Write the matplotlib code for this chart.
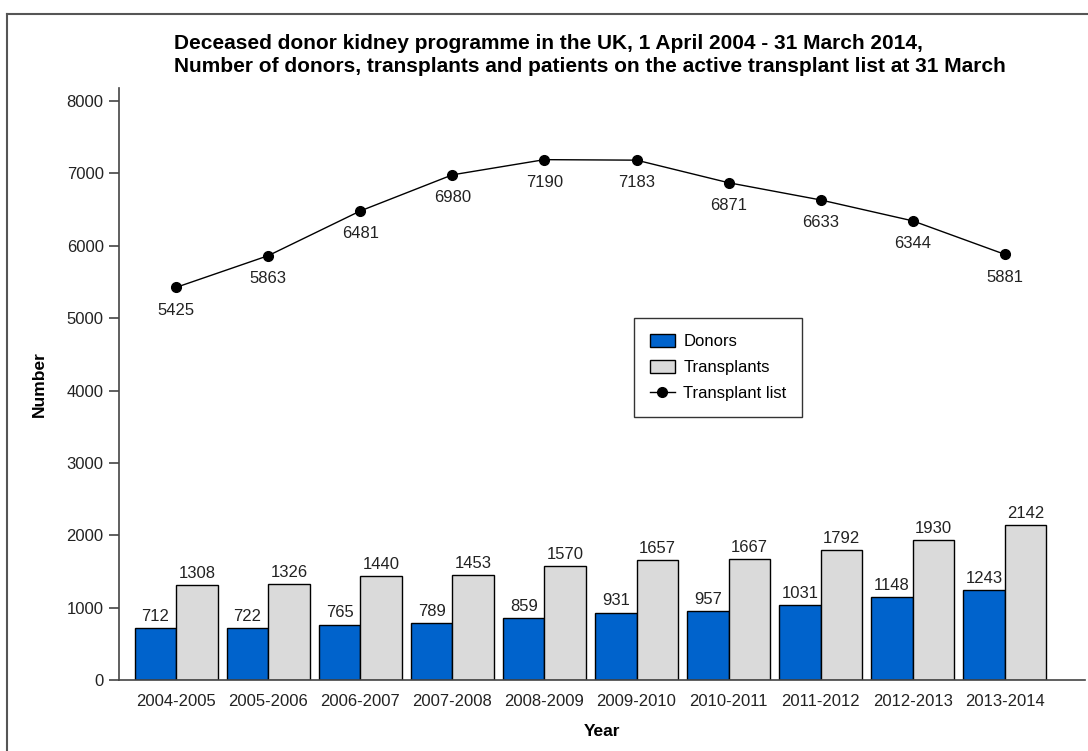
import numpy as np
import matplotlib
matplotlib.use("Agg")
import matplotlib.pyplot as plt
from matplotlib.lines import Line2D
from matplotlib.patches import Patch

plt.rcParams['font.family'] = ['Liberation Sans', 'DejaVu Sans']

# data
years = ['2004-2005', '2005-2006', '2006-2007', '2007-2008', '2008-2009',
         '2009-2010', '2010-2011', '2011-2012', '2012-2013', '2013-2014']
donors = [712, 722, 765, 789, 859, 931, 957, 1031, 1148, 1243]
transplants = [1308, 1326, 1440, 1453, 1570, 1657, 1667, 1792, 1930, 2142]
transplant_list = [5425, 5863, 6481, 6980, 7190, 7183, 6871, 6633, 6344, 5881]

donor_color = '#0063CC'
transplant_color = '#DADADA'

fig = plt.figure(figsize=(10.88, 7.51), dpi=100)
ax = fig.add_axes([119 / 1088, 1 - 680 / 751, (1085 - 119) / 1088, (680 - 88) / 751])

x = np.arange(len(years))
w = 0.45
b1 = ax.bar(x - w / 2, donors, w, color=donor_color, edgecolor='black', linewidth=1)
b2 = ax.bar(x + w / 2, transplants, w, color=transplant_color, edgecolor='black', linewidth=1)
ax.plot(x, transplant_list, color='black', lw=1, marker='o', markersize=7)

# value labels
for bars, vals in [(b1, donors), (b2, transplants)]:
    for bar, v in zip(bars, vals):
        ax.annotate(str(v), (bar.get_x() + bar.get_width() / 2, v),
                    xytext=(0, 3), textcoords='offset points',
                    ha='center', va='bottom', fontsize=12, color='#222222')
for xi, v in zip(x, transplant_list):
    ax.annotate(str(v), (xi, v), xytext=(0, -11), textcoords='offset points',
                ha='center', va='top', fontsize=12, color='#222222')

ax.set_xlim(-0.62, 9.87)
ax.set_ylim(0, 8180)
ax.set_yticks(range(0, 8001, 1000))
ax.set_xticks(x)
ax.set_xticklabels(years)
ax.tick_params(axis='x', length=0, pad=10, labelsize=12, labelcolor='#222222')
ax.tick_params(axis='y', length=7, width=1.2, pad=4, labelsize=12,
               labelcolor='#222222', color='#444444')

for s in ['top', 'right']:
    ax.spines[s].set_visible(False)
for s in ['left', 'bottom']:
    ax.spines[s].set_color('#444444')
    ax.spines[s].set_linewidth(1.2)

ax.set_ylabel('Number', fontsize=12.5, fontweight='bold', labelpad=14)
ax.set_xlabel('Year', fontsize=12.5, fontweight='bold', labelpad=11)

fig.text(174 / 1088, 1 - 55 / 751,
         'Deceased donor kidney programme in the UK, 1 April 2004 - 31 March 2014,\n'
         'Number of donors, transplants and patients on the active transplant list at 31 March',
         ha='left', va='center', fontsize=15, fontweight='bold', linespacing=1.25)

handles = [Patch(facecolor=donor_color, edgecolor='black', linewidth=1),
           Patch(facecolor=transplant_color, edgecolor='black', linewidth=1),
           Line2D([], [], color='black', lw=1, marker='o', markersize=7)]
leg = ax.legend(handles, ['Donors', 'Transplants', 'Transplant list'],
                loc='upper left', bbox_to_anchor=(634 / 1088, 1 - 318 / 751),
                bbox_transform=fig.transFigure, borderaxespad=0, fontsize=12,
                frameon=True, fancybox=False, edgecolor='black', borderpad=0.95,
                handlelength=1.5, handleheight=0.8, labelspacing=0.65, handletextpad=0.5)
leg.get_frame().set_linewidth(1)

# outer frame (top and left edges visible)
fig.add_artist(Line2D([7 / 1088, 1], [1 - 14 / 751, 1 - 14 / 751],
                      transform=fig.transFigure, color='#555555', lw=1.5))
fig.add_artist(Line2D([7 / 1088, 7 / 1088], [0, 1 - 14 / 751],
                      transform=fig.transFigure, color='#555555', lw=1.5))

fig.savefig('out.png', dpi=100)
